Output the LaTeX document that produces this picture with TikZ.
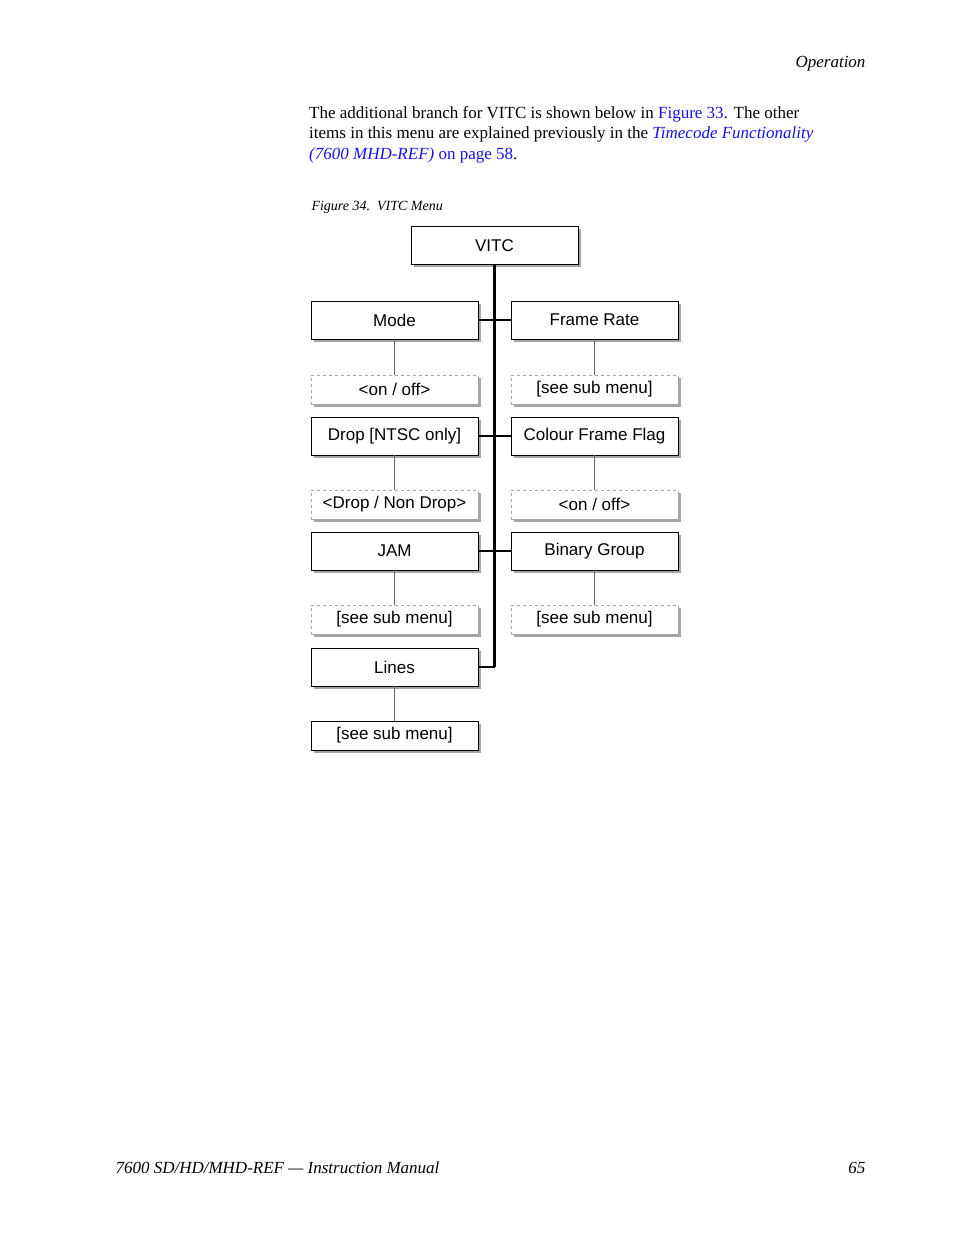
\documentclass[tikz,border=0pt]{standalone}
\usepackage{fontspec}
\setmainfont{Liberation Serif}
\newfontfamily\boxfont{Liberation Sans}
\usetikzlibrary{shadows}
\definecolor{linkblue}{RGB}{20,20,230}
\begin{document}
\begin{tikzpicture}
[x=1pt,y=-1pt,
 menubox/.style={draw,fill=white,minimum width=167pt,minimum height=38pt,inner sep=0pt,
   font=\boxfont\fontsize{17}{20}\selectfont,anchor=center,
   general shadow={fill=gray!70,shadow xshift=2.5pt,shadow yshift=-2.5pt}},
 valbox/.style={menubox,draw=gray!70,dashed,minimum height=29pt},
 spine/.style={line width=2.6pt},
 leg/.style={draw=gray!80!black,line width=1pt}]
\useasboundingbox (0,0) rectangle (954,1235);
% page text
\node[anchor=base east,font=\itshape\fontsize{17}{20}\selectfont] (hdr) at (869,67) {Operation};
\node[anchor=north west,align=left,inner sep=0pt,font=\fontsize{17}{20.5}\selectfont] (para) at (309,106)
 {The additional branch for VITC is shown below in \textcolor{linkblue}{Figure 33}. The other\\
  items in this menu are explained previously in the \textcolor{linkblue}{\itshape Timecode Functionality}\\
  \textcolor{linkblue}{{\itshape (7600 MHD-REF)} on page 58}.};
\node[anchor=base west,font=\itshape\fontsize{14}{16}\selectfont] (cap) at (308,210) {Figure 34.\ \ VITC Menu};
\node[anchor=base west,font=\itshape\fontsize{17}{20}\selectfont] (ftl) at (112,1173) {7600 SD/HD/MHD-REF --- Instruction Manual};
\node[anchor=base east,font=\itshape\fontsize{17}{20}\selectfont] (ftr) at (869,1173) {65};

% menu boxes
\node[menubox] (vitc) at (494.5,245.5) {VITC};
\node[menubox] (mode) at (394.5,320) {Mode};
\node[valbox] (modev) at (394.5,389.5) {<on / off>};
\node[menubox] (drop) at (394.5,436) {Drop [NTSC only]};
\node[valbox] (dropv) at (394.5,504.5) {<Drop / Non Drop>};
\node[menubox] (jam) at (394.5,551) {JAM};
\node[valbox] (jamv) at (394.5,619.5) {[see sub menu]};
\node[menubox] (lines) at (394.5,667) {Lines};
\node[menubox,minimum height=29pt] (linesv) at (394.5,735.5) {[see sub menu]};
\node[menubox] (rate) at (594.5,320) {Frame Rate};
\node[valbox] (ratev) at (594.5,389.5) {[see sub menu]};
\node[menubox] (flag) at (594.5,436) {Colour Frame Flag};
\node[valbox] (flagv) at (594.5,504.5) {<on / off>};
\node[menubox] (bgrp) at (594.5,551) {Binary Group};
\node[valbox] (bgrpv) at (594.5,619.5) {[see sub menu]};
\coordinate (send) at (494.5,667);

% connectors
\draw[spine] (vitc.south) -- (send);
\foreach \l/\r in {mode/rate,drop/flag,jam/bgrp}
  \draw[spine] (\l.east) -- (\r.west);
\draw[spine] (lines.east) -- (send);
\foreach \a/\b in {mode/modev,drop/dropv,jam/jamv,lines/linesv,rate/ratev,flag/flagv,bgrp/bgrpv}
  \draw[leg] (\a.south) -- (\b.north);
\end{tikzpicture}
\end{document}
